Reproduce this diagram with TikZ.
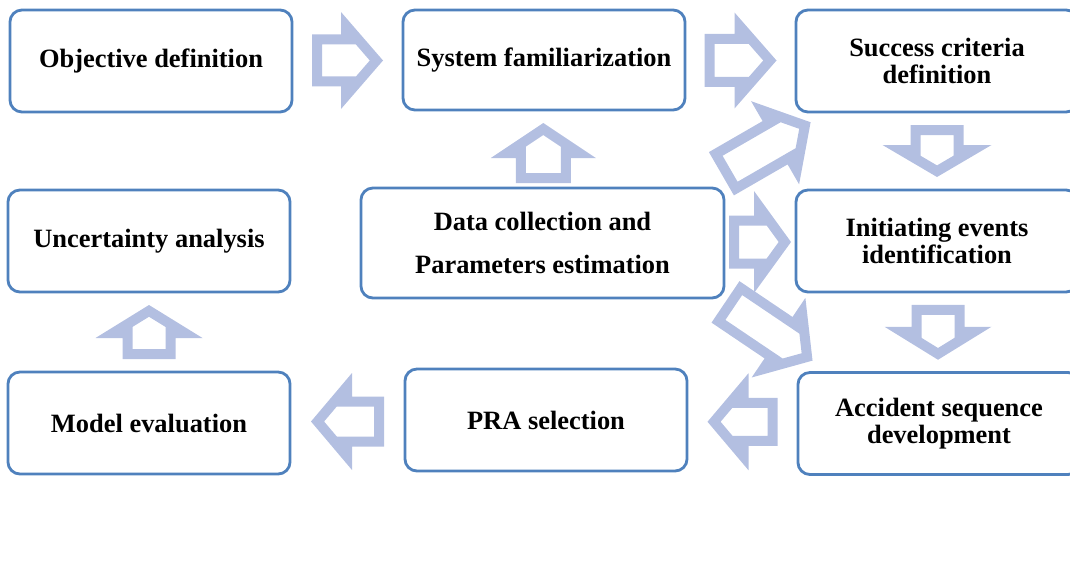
\documentclass[tikz,border=0pt]{standalone}
\usepackage{fontspec}
\setmainfont{Liberation Serif}
\usetikzlibrary{calc}

\definecolor{boxblue}{RGB}{79,129,189}
\definecolor{arrowblue}{RGB}{179,191,225}

% hollow block arrow: centre, angle, length, head length, half shaft, half head
\newcommand{\blockarrow}[6]{%
  \begin{scope}[shift={#1},rotate=#2]
    \pgfmathsetmacro{\bxTail}{-#3/2}
    \pgfmathsetmacro{\bxTip}{#3/2}
    \pgfmathsetmacro{\bxNeck}{#3/2-#4}
    \pgfmathsetmacro{\bxK}{10*sqrt(#4*#4+#6*#6)/#6}
    \pgfmathsetmacro{\bxInTip}{\bxTip-\bxK}
    \pgfmathsetmacro{\bxInNeck}{\bxTip-#4*(#5-10)/#6-\bxK}
    \pgfmathsetmacro{\bxInTail}{\bxTail+10}
    \pgfmathsetmacro{\bxIn}{#5-10}
    \fill[arrowblue,even odd rule]
      (\bxTail,#5) -- (\bxNeck,#5) -- (\bxNeck,#6) -- (\bxTip,0)
      -- (\bxNeck,-#6) -- (\bxNeck,-#5) -- (\bxTail,-#5) -- cycle
      (\bxInTail,\bxIn) -- (\bxInNeck,\bxIn) -- (\bxInTip,0)
      -- (\bxInNeck,-\bxIn) -- (\bxInTail,-\bxIn) -- cycle;
  \end{scope}}

\begin{document}
\begin{tikzpicture}
[x=0.025cm,y=-0.025cm,
 box/.style=
   {draw=boxblue,line width=2pt,rounded corners=0.3cm,fill=white,
    minimum width=7.05cm,minimum height=2.55cm,inner sep=0pt,align=center,
    font=\bfseries\fontsize{18.8}{19.5}\selectfont},
 widebox/.style=
   {box,minimum width=9.075cm,minimum height=2.75cm,
    font=\bfseries\fontsize{18.8}{30}\selectfont}]
\useasboundingbox (0,0) rectangle (1070,565);
\clip (0,0) rectangle (1070,565);

% top row
\node [box] (obj) at (151,61) {Objective definition};
\node [box,minimum height=2.5cm] (sys) at (544,60) {System familiarization};
\node [box] (succ) at (937,61) {Success criteria\\definition};

% middle row
\node [box] (unc) at (149,241) {Uncertainty analysis};
\node [widebox] (data) at (542.5,243) {Data collection and\\Parameters estimation};
\node [box] (init) at (937,241) {Initiating events\\identification};

% bottom row
\node [box] (model) at (149,423) {Model evaluation};
\node [box] (pra) at (546,420) {PRA selection};
\node [box] (acc) at (939,423.5) {Accident sequence\\development};

% flow
\blockarrow{($(obj.east)!0.5!(sys.west)$)}{0}{71}{42}{26}{48.5}
\blockarrow{($(sys.east)!0.5!(succ.west)$)}{0}{72}{42}{26.5}{48}
\blockarrow{($(data.north east)!0.5!(succ.south west)+(6,-2)$)}{30}{103}{41}{25}{48}
\blockarrow{($(data.east)!0.5!(init.west)$)}{0}{62}{37}{26.5}{51}
\blockarrow{($(data.south east)!0.5!(acc.north west)+(8,-4)$)}{-34}{105}{41}{25}{48}
\blockarrow{($(succ.south)!0.5!(init.north)$)}{-90}{52}{32}{26.5}{54.5}
\blockarrow{($(init.south)!0.5!(acc.north)$)}{-90}{55}{33}{26.5}{53.5}
\blockarrow{($(acc.west)!0.5!(pra.east)$)}{180}{70}{41}{24}{48.5}
\blockarrow{($(pra.west)!0.5!(model.east)$)}{180}{73}{41}{25}{48.5}
\blockarrow{($(model.north)!0.5!(unc.south)$)}{90}{54}{33}{26.5}{53.5}
\blockarrow{($(data.north)!0.5!(sys.south)+(0,4)$)}{90}{60}{35}{27.5}{52.5}
\end{tikzpicture}
\end{document}
